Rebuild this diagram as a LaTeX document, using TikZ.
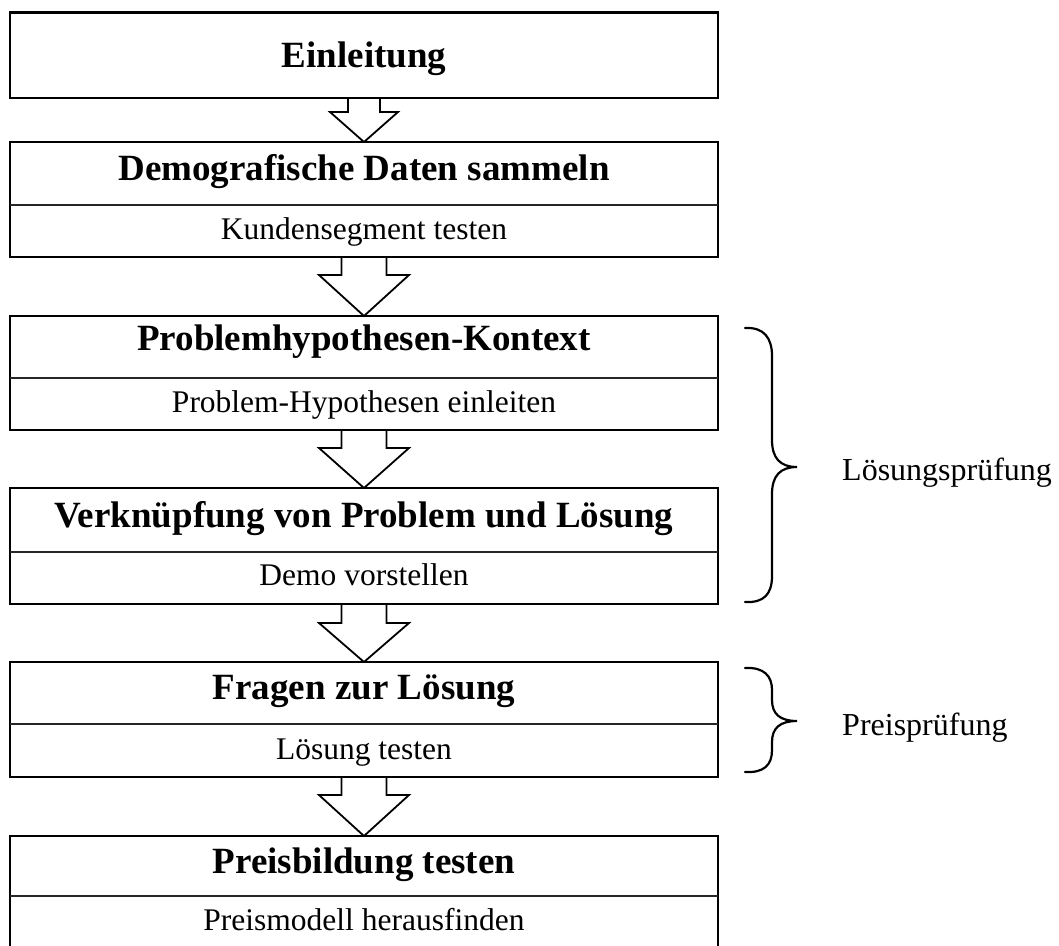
\documentclass[tikz,border=0pt]{standalone}
\usepackage{fontspec}
\setmainfont{Liberation Serif}
\usetikzlibrary{calc}

\tikzset{
  panel/.style={draw=black, line width=2.2pt, minimum width=708pt, inner sep=0pt, outer sep=0pt},
  divider/.style={draw=black!85, line width=1.6pt},
  blockarrow/.style={draw=black, line width=1.8pt, line join=miter},
  headline/.style={anchor=base, font=\fontsize{37}{40}\selectfont\bfseries, inner sep=0pt},
  subline/.style={anchor=base, font=\fontsize{31.5}{36}\selectfont, inner sep=0pt},
  sidelabel/.style={anchor=base west, font=\fontsize{32}{36}\selectfont, inner sep=0pt},
  bracepath/.style={draw=black, line width=2.2pt, line cap=round},
}

% hollow block arrow from the bottom of one panel to the top of the next:
% #1 source, #2 target, #3 half shaft width, #4 half head width, #5 shaft length
\newcommand\flowarrow[5]{%
  \draw[blockarrow]
    ($(#1.south)+(-#3,0)$) -- ($(#1.south)+(-#3,#5)$) -- ($(#1.south)+(-#4,#5)$)
    -- (#2.north)
    -- ($(#1.south)+(#4,#5)$) -- ($(#1.south)+(#3,#5)$) -- ($(#1.south)+(#3,0)$);
}

\begin{document}
\begin{tikzpicture}[x=1pt,y=-1pt]
\useasboundingbox (0,0) rectangle (1059,945);
\clip (0,0) rectangle (1059,945);

% panels
\node[panel, minimum height=85.5pt] (b1) at (364,55.25) {};
\node[panel, minimum height=115pt]  (b2) at (364,199.5) {};
\node[panel, minimum height=114pt]  (b3) at (364,373) {};
\node[panel, minimum height=116pt]  (b4) at (364,546) {};
\node[panel, minimum height=115pt]  (b5) at (364,719.5) {};
\node[panel, minimum height=130pt]  (b6) at (364,901) {};

% dividers between heading and detail rows
\foreach \b/\d in {b2/63,b3/62,b4/64,b5/62,b6/60}
  \draw[divider] ($(\b.north west)+(0,\d)$) -- ($(\b.north east)+(0,\d)$);

% headings
\node[headline] (t1) at (364,67)  {Einleitung};
\node[headline] (t2) at (364,180) {Demografische Daten sammeln};
\node[headline] (t3) at (364,350) {Problemhypothesen-Kontext};
\node[headline] (t4) at (364,527) {Verknüpfung von Problem und Lösung};
\node[headline] (t5) at (364,699) {Fragen zur Lösung};
\node[headline] (t6) at (364,873) {Preisbildung testen};

% detail rows
\node[subline] (s2) at (364,239) {Kundensegment testen};
\node[subline] (s3) at (364,412) {Problem-Hypothesen einleiten};
\node[subline] (s4) at (364,585) {Demo vorstellen};
\node[subline] (s5) at (364,759) {Lösung testen};
\node[subline] (s6) at (364,930) {Preismodell herausfinden};

% arrows
\flowarrow{b1}{b2}{16}{34}{14}
\flowarrow{b2}{b3}{22.5}{45}{18}
\flowarrow{b3}{b4}{22.5}{45}{18}
\flowarrow{b4}{b5}{22.5}{45}{19}
\flowarrow{b5}{b6}{22.5}{45}{18}

% braces
\draw[bracepath] (745,328) .. controls (764,327) and (772,338) .. (772,356)
  -- (772,440) .. controls (772,458) and (780,467) .. (797,467)
  .. controls (780,467) and (772,476) .. (772,494)
  -- (772,576) .. controls (772,594) and (764,603) .. (745,602);
\draw[bracepath] (745,668) .. controls (764,667) and (772,676) .. (772,690)
  -- (772,700) .. controls (772,714) and (780,721) .. (797,721)
  .. controls (780,721) and (772,728) .. (772,742)
  -- (772,750) .. controls (772,765) and (764,773) .. (745,772);

% group labels
\node[sidelabel] (l1) at (842,480) {Lösungsprüfung};
\node[sidelabel] (l2) at (842,735) {Preisprüfung};
\end{tikzpicture}
\end{document}
